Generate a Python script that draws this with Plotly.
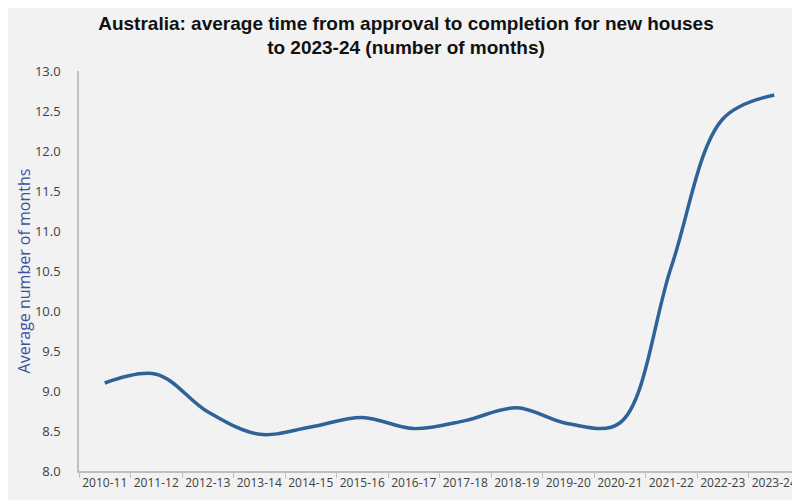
import plotly.graph_objects as go

# Financial years and average months from approval to completion
years = ['2010-11', '2011-12', '2012-13', '2013-14', '2014-15', '2015-16', '2016-17',
         '2017-18', '2018-19', '2019-20', '2020-21', '2021-22', '2022-23', '2023-24']
months = [9.10, 9.21, 8.74, 8.46, 8.55, 8.67, 8.53,
          8.63, 8.79, 8.59, 8.60, 10.55, 12.40, 12.70]

y_ticks = [8.0, 8.5, 9.0, 9.5, 10.0, 10.5, 11.0, 11.5, 12.0, 12.5, 13.0]

fig = go.Figure()

fig.add_trace(go.Scatter(
    x=years,
    y=months,
    mode='lines',
    line=dict(color='#2e6398', width=3.5, shape='spline', smoothing=1.0),
    hoverinfo='x+y',
    showlegend=False,
))

# page body keeps an 8px margin, so the figure is a bit smaller than the window
fig.update_layout(
    width=792,
    height=492,
    margin=dict(l=71, r=0, t=63, b=29),
    paper_bgcolor='#f2f2f2',
    plot_bgcolor='#f2f2f2',
    font=dict(family='Open Sans, sans-serif', size=12, color='#404040'),
    title=dict(
        text='<b>Australia: average time from approval to completion for new houses<br>to 2023-24 (number of months)</b>',
        x=0.5025,
        xanchor='center',
        y=0.956,
        yanchor='top',
        font=dict(family='Liberation Sans, Arial, sans-serif', size=19, color='#111111'),
    ),
)

# Category axis with ticks between the years
fig.update_xaxes(
    type='category',
    range=[-0.5, len(years) - 0.5],
    tickson='boundaries',
    ticks='outside',
    ticklen=5,
    tickcolor='#bfbfbf',
    showline=True,
    linecolor='#bfbfbf',
    linewidth=1.5,
    showgrid=False,
    zeroline=False,
    tickangle=0,
    automargin=False,
    tickfont=dict(size=12, color='#404040'),
)

fig.update_yaxes(
    range=[8.0, 13.0],
    tickvals=y_ticks,
    tickformat='.1f',
    showline=True,
    linecolor='#bfbfbf',
    linewidth=1.5,
    showgrid=False,
    zeroline=False,
    ticks='',
    ticklabelstandoff=14,
    automargin=False,
    tickfont=dict(size=13, color='#404040'),
    title=dict(text='Average number of months', standoff=0,
               font=dict(size=16, color='#3f4fa0')),
)

fig.write_html('out.html')
